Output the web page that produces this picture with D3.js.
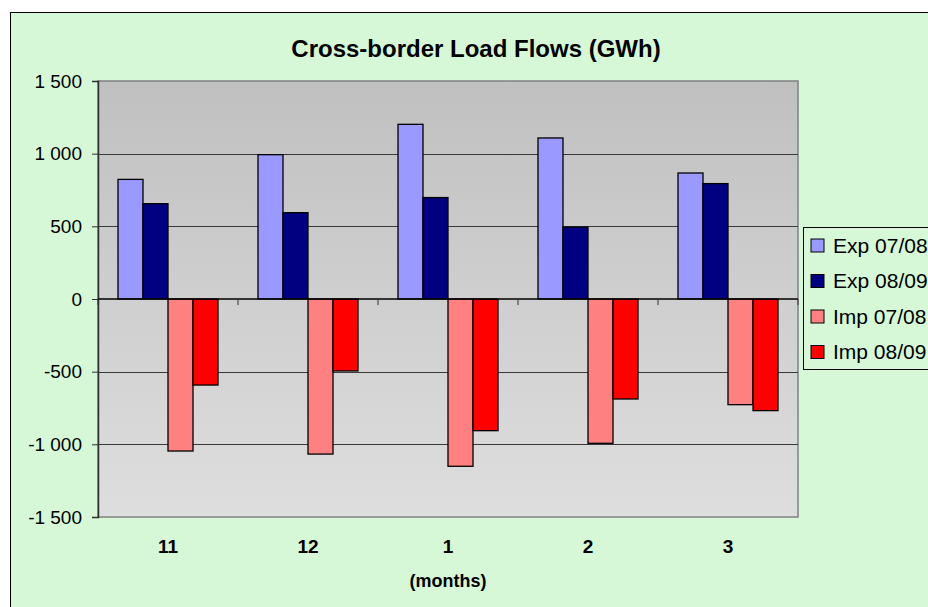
<!DOCTYPE html>
<html>
<head>
<meta charset="utf-8">
<script src="https://cdn.jsdelivr.net/npm/d3@7"></script>
<style>
  html, body { margin: 0; padding: 0; background: #ffffff; }
  svg { display: block; font-family: "Liberation Sans", Arial, sans-serif; }
</style>
</head>
<body>
<div id="chart"></div>
<script>
// Data
const months = ['11', '12', '1', '2', '3'];
const seriesNames = ['Exp 07/08', 'Exp 08/09', 'Imp 07/08', 'Imp 08/09'];
const exp0708 = [823, 993, 1202, 1108, 867];
const exp0809 = [656, 594, 698, 495, 794];
const imp0708 = [-1046, -1067, -1151, -993, -727];
const imp0809 = [-592, -495, -906, -688, -768];
const yTicks = [-1500, -1000, -500, 0, 500, 1000, 1500];
const colors = ['#9999ff', '#000080', '#ff8080', '#ff0000'];

const allSeries = [exp0708, exp0809, imp0708, imp0809];

const W = 928, H = 607;
const plot = { left: 98, right: 798, top: 81, bottom: 517 };

const svg = d3.select('#chart')
    .append('svg')
    .attr('width', W)
    .attr('height', H);

// Chart area (light green, cut off at right/bottom)
svg.append('rect')
    .attr('x', 10.5).attr('y', 12.5)
    .attr('width', 1000).attr('height', 700)
    .attr('fill', '#d6f8d6')
    .attr('stroke', '#000').attr('stroke-width', 1);

// Plot background gradient
const defs = svg.append('defs');
const grad = defs.append('linearGradient')
    .attr('id', 'plotbg')
    .attr('x1', 0).attr('y1', 0).attr('x2', 0).attr('y2', 1);
grad.append('stop').attr('offset', '0%').attr('stop-color', '#c0c0c0');
grad.append('stop').attr('offset', '100%').attr('stop-color', '#dedede');

// Scales
const yScale = d3.scaleLinear()
    .domain([-1500, 1500])
    .range([plot.bottom, plot.top]);

const x0 = d3.scaleBand()
    .domain(months)
    .range([plot.left, plot.right])
    .paddingInner(2 / 7)
    .paddingOuter(1 / 7);

const x1 = d3.scaleBand()
    .domain(seriesNames)
    .range([0, x0.bandwidth()]);

const step = (plot.right - plot.left) / months.length;

svg.append('rect')
    .attr('x', plot.left).attr('y', plot.top)
    .attr('width', plot.right - plot.left)
    .attr('height', plot.bottom - plot.top)
    .attr('fill', 'url(#plotbg)')
    .attr('stroke', '#808080').attr('stroke-width', 1.5);

// Gridlines
svg.append('g')
    .selectAll('line')
    .data(yTicks.filter(d => d !== 0 && Math.abs(d) !== 1500))
    .enter()
    .append('line')
    .attr('x1', plot.left).attr('x2', plot.right)
    .attr('y1', d => Math.round(yScale(d)) + 0.5)
    .attr('y2', d => Math.round(yScale(d)) + 0.5)
    .attr('stroke', '#3a3a3a').attr('stroke-width', 1);

// Y axis with space as thousands separator
const locale = d3.formatLocale({ decimal: ',', thousands: ' ', grouping: [3], currency: ['', ''], minus: '-' });
const fmt = locale.format(',');

const yAxis = svg.append('g')
    .attr('transform', `translate(${plot.left},0)`)
    .call(d3.axisLeft(yScale).tickValues(yTicks).tickFormat(fmt).tickSize(6).tickPadding(10));
yAxis.select('.domain').attr('stroke', '#303030').attr('stroke-width', 1.5);
yAxis.selectAll('.tick line').attr('stroke', '#303030');
yAxis.selectAll('text')
    .attr('fill', '#000')
    .style('font-size', '19px')
    .style('font-family', '"Liberation Sans", Arial, sans-serif');

// Bars
const groups = svg.append('g')
    .selectAll('g')
    .data(months)
    .enter()
    .append('g')
    .attr('transform', d => `translate(${x0(d)},0)`);

groups.selectAll('rect')
    .data((m, i) => allSeries.map((s, k) => ({ name: seriesNames[k], value: s[i], color: colors[k] })))
    .enter()
    .append('rect')
    .attr('x', d => x1(d.name))
    .attr('y', d => yScale(Math.max(0, d.value)))
    .attr('width', x1.bandwidth())
    .attr('height', d => Math.abs(yScale(d.value) - yScale(0)))
    .attr('fill', d => d.color)
    .attr('stroke', '#000')
    .attr('stroke-width', 1.3);

// Category axis along zero
const zeroY = yScale(0);
svg.append('line')
    .attr('x1', plot.left).attr('x2', plot.right)
    .attr('y1', zeroY).attr('y2', zeroY)
    .attr('stroke', '#000').attr('stroke-width', 1.5);

svg.append('g')
    .selectAll('line')
    .data(d3.range(months.length + 1))
    .enter()
    .append('line')
    .attr('x1', i => plot.left + i * step)
    .attr('x2', i => plot.left + i * step)
    .attr('y1', zeroY).attr('y2', zeroY + 6)
    .attr('stroke', '#303030').attr('stroke-width', 1);

// Category labels below plot
svg.append('g')
    .selectAll('text')
    .data(months)
    .enter()
    .append('text')
    .attr('x', d => x0(d) + x0.bandwidth() / 2)
    .attr('y', 553)
    .attr('text-anchor', 'middle')
    .style('font-size', '19px')
    .style('font-weight', 'bold')
    .text(d => d);

// Axis title
svg.append('text')
    .attr('x', (plot.left + plot.right) / 2)
    .attr('y', 587)
    .attr('text-anchor', 'middle')
    .style('font-size', '18px')
    .style('font-weight', 'bold')
    .text('(months)');

// Chart title
svg.append('text')
    .attr('x', 476)
    .attr('y', 57)
    .attr('text-anchor', 'middle')
    .style('font-size', '24px')
    .style('font-weight', 'bold')
    .text('Cross-border Load Flows (GWh)');

// Legend
const legend = svg.append('g').attr('transform', 'translate(803,227)');
legend.append('rect')
    .attr('x', 0.5).attr('y', 0.5)
    .attr('width', 200).attr('height', 142)
    .attr('fill', '#d6f8d6')
    .attr('stroke', '#000').attr('stroke-width', 1);

const items = legend.selectAll('.item')
    .data(seriesNames)
    .enter()
    .append('g')
    .attr('class', 'item')
    .attr('transform', (d, i) => `translate(0,${18 + i * 35.5})`);

items.append('rect')
    .attr('x', 8).attr('y', -6)
    .attr('width', 13).attr('height', 13)
    .attr('fill', (d, i) => colors[i])
    .attr('stroke', '#000').attr('stroke-width', 1);

items.append('text')
    .attr('x', 30)
    .attr('y', 0)
    .attr('dy', '0.36em')
    .style('font-size', '21px')
    .text(d => d);
</script>
</body>
</html>
